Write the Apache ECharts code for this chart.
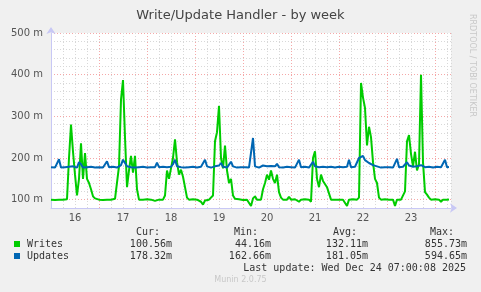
<!DOCTYPE html>
<html><head><meta charset="utf-8">
<script src="https://cdn.jsdelivr.net/npm/echarts@6/dist/echarts.min.js"></script>
<style>html,body{margin:0;padding:0;background:#F0F0F0;}#c{width:481px;height:292px;}</style>
</head><body><div id="c"></div>
<script>
// hours since Dec 16 00:00, one value per hour (milli-units)
var writes = [100,101,99,97,100,99,100,102,101,200,280,215,160,110,150,235,150,212,150,140,
125,108,103,101,100,100,99,95,100,101,100,100,102,105,180,340,387,250,130,170,
205,165,205,125,100,103,100,100,101,100,100,100,97,100,100,101,100,110,170,150,
175,200,245,190,160,172,155,130,105,100,100,101,100,100,100,95,88,98,100,100,
100,110,240,262,325,200,175,230,170,140,150,110,102,100,101,100,99,100,100,98,
85,103,108,100,102,100,125,140,160,148,170,150,140,160,118,105,100,101,100,107,
100,100,101,100,95,100,100,101,100,100,95,200,216,150,130,160,145,148,130,115,
100,101,100,100,100,101,100,100,85,100,100,101,100,100,105,380,345,320,230,275,
250,190,150,140,105,100,100,101,100,100,100,100,85,100,101,100,100,120,240,255,
210,180,215,170,185,400,190,118,112,105,100,100,101,100,100,95,100,100,100,100.56];
var updates = [178,179,177,178,197,177,179,178,177,179,176,180,178,177,190,185,177,180,178,177,
179,178,177,175,178,179,177,178,192,178,177,179,178,177,180,183,196,188,180,184,
178,180,177,179,178,177,179,178,177,179,178,177,178,189,178,177,179,180,178,182,
179,185,196,180,182,178,180,177,179,178,177,179,178,177,178,179,177,196,180,178,
177,179,180,184,182,188,179,181,177,179,191,180,178,177,179,178,177,178,179,177,
178,248,180,178,177,179,182,178,180,177,181,178,180,186,178,179,177,178,179,177,
178,179,177,178,196,178,177,179,178,177,179,191,180,184,178,182,179,181,178,177,
179,178,177,178,179,177,178,177,179,196,178,177,179,180,200,203,205,195,198,188,
192,183,185,180,178,177,179,178,177,178,179,177,178,198,178,177,179,180,190,182,
184,179,182,180,181,183,179,178,177,179,178,177,178,179,177,178,179,196,178,178.32];
var dayLabels = ['16','17','18','19','20','21','22','23'];
var seriesNames = ['Writes','Updates'];
var seriesColors = ['#00CC00','#0066B3'];
var statHeads = ['Cur:','Min:','Avg:','Max:'];
var statWrites = ['100.56m','44.16m','132.11m','855.73m'];
var statUpdates = ['178.32m','162.66m','181.05m','594.65m'];
var lastUpdate = 'Last update: Wed Dec 24 07:00:08 2025';

var chart = echarts.init(document.getElementById('c'), null, {renderer:'canvas'});
var GRAY = '#D8D8D8', RED = '#F5A8A8', AXIS = '#C8C8F5';
var mono = '"DejaVu Sans Mono", monospace';
var sans = '"DejaVu Sans", sans-serif';
function toPts(arr){ return arr.map(function(v,i){ return [i, v]; }); }

var colX = [172, 271, 368, 467];
var g = [];
statHeads.forEach(function(t,i){
  g.push({type:'text', right: 481-colX[i]+ (i==0?12:(i==1?13:(i==2?11:13))), top: 227, style:{text:t, font:'10px '+mono, fill:'#333'}});
});
[statWrites, statUpdates].forEach(function(row, r){
  var y = 239 + r*12;
  g.push({type:'rect', shape:{x:14, y:y+2, width:6, height:6}, style:{fill:seriesColors[r]}});
  g.push({type:'text', left:27, top:y, style:{text:seriesNames[r], font:'10px '+mono, fill:'#333'}});
  row.forEach(function(t,i){
    g.push({type:'text', right:481-colX[i], top:y, style:{text:t, font:'10px '+mono, fill:'#333'}});
  });
});
g.push({type:'text', right:481-466, top:263, style:{text:lastUpdate, font:'10px '+mono, fill:'#333'}});
g.push({type:'text', left:'center', top:276, style:{text:'Munin 2.0.75', font:'8px '+sans, fill:'#C8C8C8'}});
g.push({type:'text', x:476, y:14, rotation:-Math.PI/2, style:{text:'RRDTOOL / TOBI OETIKER', font:'8px '+sans, fill:'#C8C8C8'}});

chart.setOption({
  backgroundColor:'#F0F0F0',
  animation:false,
  title:{text:'Write/Update Handler - by week', left:'center', top:4,
    textStyle:{fontFamily:sans, fontSize:13, fontWeight:'normal', color:'#444'}},
  grid:{left:51, top:33, width:400, height:175, backgroundColor:'#FFFFFF', show:true, borderWidth:0},
  xAxis:{type:'value', min:0, max:200, interval:6,
    axisLine:{show:true, lineStyle:{color:AXIS, width:1}, symbol:['none','arrow'], symbolSize:[7,7], symbolOffset:[0,6]},
    axisTick:{show:false},
    splitLine:{show:true, lineStyle:{color:[RED,GRAY,GRAY,GRAY], type:[1,2], width:1}},
    axisLabel:{margin:5, fontFamily:sans, fontSize:10, color:'#555',
      formatter:function(v){ if (v%24===12){ var d=Math.floor(v/24); return dayLabels[d]||''; } return ''; }}
  },
  yAxis:{type:'value', min:80, max:500, interval:20,
    axisLine:{show:true, lineStyle:{color:AXIS, width:1}, symbol:['none','arrow'], symbolSize:[7,7], symbolOffset:[0,6]},
    axisTick:{show:false},
    splitLine:{show:true, lineStyle:{color:[GRAY,RED,GRAY,GRAY,GRAY], type:[1,2], width:1}},
    axisLabel:{margin:8, fontFamily:sans, fontSize:10, color:'#555',
      formatter:function(v){ return (v%100===0) ? (v+' m') : ''; }}
  },
  series:[
    {name:seriesNames[0], type:'line', data:toPts(writes), symbol:'none', lineStyle:{color:seriesColors[0], width:2}, z:3},
    {name:seriesNames[1], type:'line', data:toPts(updates), symbol:'none', lineStyle:{color:seriesColors[1], width:2}, z:4}
  ],
  graphic:g
});
</script></body></html>
